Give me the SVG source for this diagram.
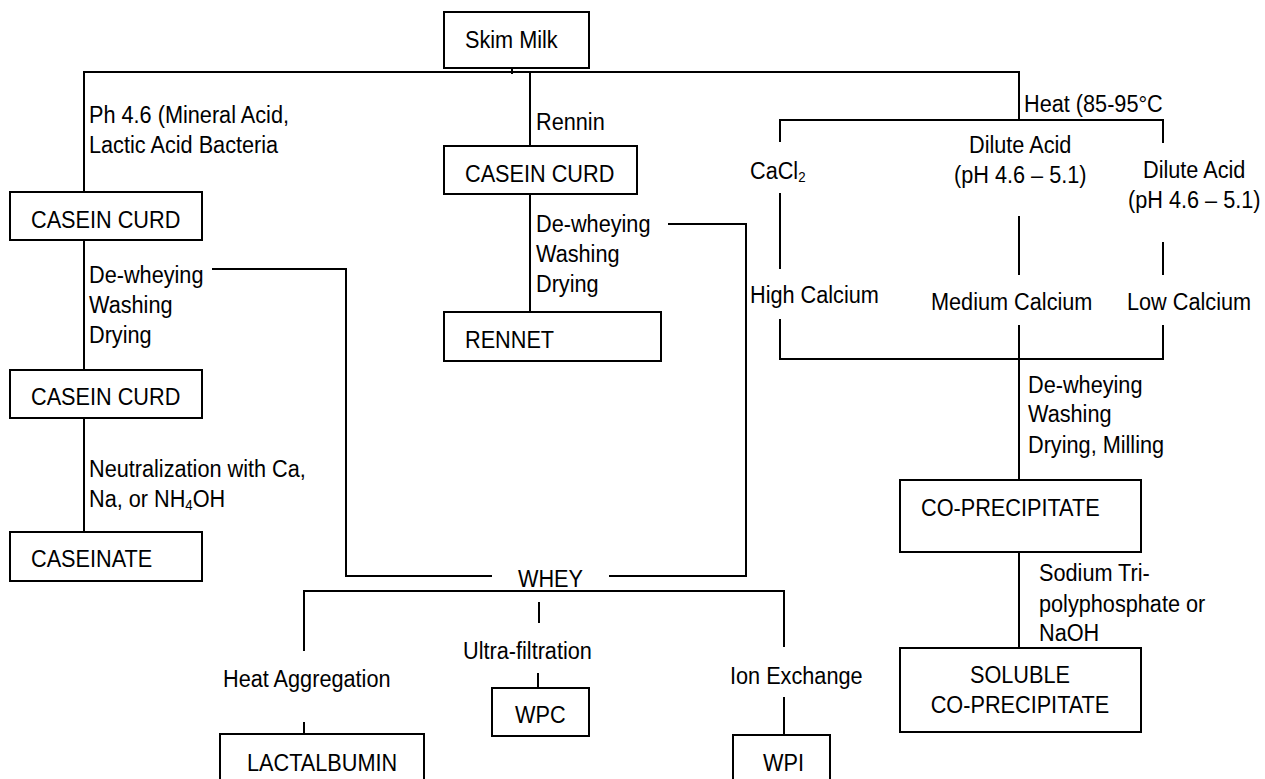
<svg xmlns="http://www.w3.org/2000/svg" width="1265" height="779" viewBox="0 0 1265 779">
<style>
.n rect{fill:#fff;stroke:#000;stroke-width:2}
.t{font-family:"Liberation Sans",Arial,sans-serif;font-size:24.5px;fill:#000}
.m{text-anchor:middle}
.sub{font-size:15px}
#connectors path{fill:none;stroke:#000;stroke-width:2}
</style>
<rect width="1265" height="779" fill="#fff"/>
<g id="connectors">
<path d="M512 68V74"/>
<path d="M84 192V72H1019V120"/>
<path d="M530 72V146"/>
<path d="M530 194V312"/>
<path d="M84 240V370"/>
<path d="M84 418V532"/>
<path d="M212 269H346V576H492"/>
<path d="M668 224H746V576H609"/>
<path d="M780 142V120H1163V143"/>
<path d="M780 193V269"/>
<path d="M1019 216V275"/>
<path d="M1163 242V275"/>
<path d="M780 319V359H1163V325"/>
<path d="M1019 325V480"/>
<path d="M1019 552V648"/>
<path d="M304 651V591H784V647"/>
<path d="M539 602V623"/>
<path d="M538 673V688"/>
<path d="M304 722V734"/>
<path d="M784 697V735"/>
</g>
<g id="labels">
<text class="t" transform="translate(89 123) scale(.885 1)">Ph 4.6 (Mineral Acid,</text>
<text class="t" transform="translate(89 153) scale(.885 1)">Lactic Acid Bacteria</text>
<text class="t" transform="translate(89 283) scale(.885 1)">De-wheying</text>
<text class="t" transform="translate(89 313) scale(.885 1)">Washing</text>
<text class="t" transform="translate(89 343) scale(.885 1)">Drying</text>
<text class="t" transform="translate(89 477) scale(.885 1)">Neutralization with Ca,</text>
<text class="t" transform="translate(89 507) scale(.885 1)">Na, or NH<tspan class="sub" dy="3">4</tspan><tspan dy="-3">OH</tspan></text>
<text class="t" transform="translate(536 130) scale(.885 1)">Rennin</text>
<text class="t" transform="translate(536 232) scale(.885 1)">De-wheying</text>
<text class="t" transform="translate(536 262) scale(.885 1)">Washing</text>
<text class="t" transform="translate(536 292) scale(.885 1)">Drying</text>
<text class="t" transform="translate(1024 112) scale(.885 1)">Heat (85-95°C</text>
<text class="t" transform="translate(750 179) scale(.885 1)">CaCl<tspan class="sub" dy="3">2</tspan></text>
<text class="t" transform="translate(969 153) scale(.885 1)">Dilute Acid</text>
<text class="t" transform="translate(954 183) scale(.885 1)">(pH 4.6 – 5.1)</text>
<text class="t" transform="translate(1143 178) scale(.885 1)">Dilute Acid</text>
<text class="t" transform="translate(1128 208) scale(.885 1)">(pH 4.6 – 5.1)</text>
<text class="t" transform="translate(750 303) scale(.885 1)">High Calcium</text>
<text class="t" transform="translate(931 310) scale(.885 1)">Medium Calcium</text>
<text class="t" transform="translate(1127 310) scale(.885 1)">Low Calcium</text>
<text class="t" transform="translate(1028 393) scale(.885 1)">De-wheying</text>
<text class="t" transform="translate(1028 422) scale(.885 1)">Washing</text>
<text class="t" transform="translate(1028 453) scale(.885 1)">Drying, Milling</text>
<text class="t" transform="translate(1039 581) scale(.885 1)">Sodium Tri-</text>
<text class="t" transform="translate(1039 612) scale(.885 1)">polyphosphate or</text>
<text class="t" transform="translate(1039 641) scale(.885 1)">NaOH</text>
<text class="t" transform="translate(223 687) scale(.885 1)">Heat Aggregation</text>
<text class="t" transform="translate(463 659) scale(.885 1)">Ultra-filtration</text>
<text class="t" transform="translate(730 684) scale(.885 1)">Ion Exchange</text>
</g>
<g id="skim-milk" class="n"><rect x="444" y="12" width="145" height="56"/><text class="t" transform="translate(465 48) scale(.885 1)">Skim Milk</text></g>
<g id="casein-curd-acid" class="n"><rect x="10" y="192" width="192" height="48"/><text class="t" transform="translate(31 228) scale(.885 1)">CASEIN CURD</text></g>
<g id="casein-curd-dried" class="n"><rect x="10" y="370" width="192" height="48"/><text class="t" transform="translate(31 405) scale(.885 1)">CASEIN CURD</text></g>
<g id="caseinate" class="n"><rect x="10" y="532" width="192" height="49"/><text class="t" transform="translate(31 567) scale(.885 1)">CASEINATE</text></g>
<g id="casein-curd-rennin" class="n"><rect x="444" y="146" width="193" height="48"/><text class="t" transform="translate(465 182) scale(.885 1)">CASEIN CURD</text></g>
<g id="rennet" class="n"><rect x="444" y="312" width="217" height="49"/><text class="t" transform="translate(465 348) scale(.885 1)">RENNET</text></g>
<g id="co-precipitate" class="n"><rect x="900" y="480" width="241" height="72"/><text class="t" transform="translate(921 516) scale(.885 1)">CO-PRECIPITATE</text></g>
<g id="soluble-co-precipitate" class="n"><rect x="900" y="648" width="241" height="84"/><text class="t m" transform="translate(1020 683) scale(.885 1)">SOLUBLE</text><text class="t m" transform="translate(1020 713) scale(.885 1)">CO-PRECIPITATE</text></g>
<g id="whey"><text class="t" transform="translate(518 587) scale(.885 1)">WHEY</text></g>
<g id="wpc" class="n"><rect x="492" y="688" width="97" height="48"/><text class="t" transform="translate(515 723) scale(.885 1)">WPC</text></g>
<g id="lactalbumin" class="n"><rect x="220" y="734" width="204" height="70"/><text class="t" transform="translate(247 771) scale(.885 1)">LACTALBUMIN</text></g>
<g id="wpi" class="n"><rect x="733" y="735" width="97" height="70"/><text class="t" transform="translate(763 771) scale(.885 1)">WPI</text></g>
</svg>
